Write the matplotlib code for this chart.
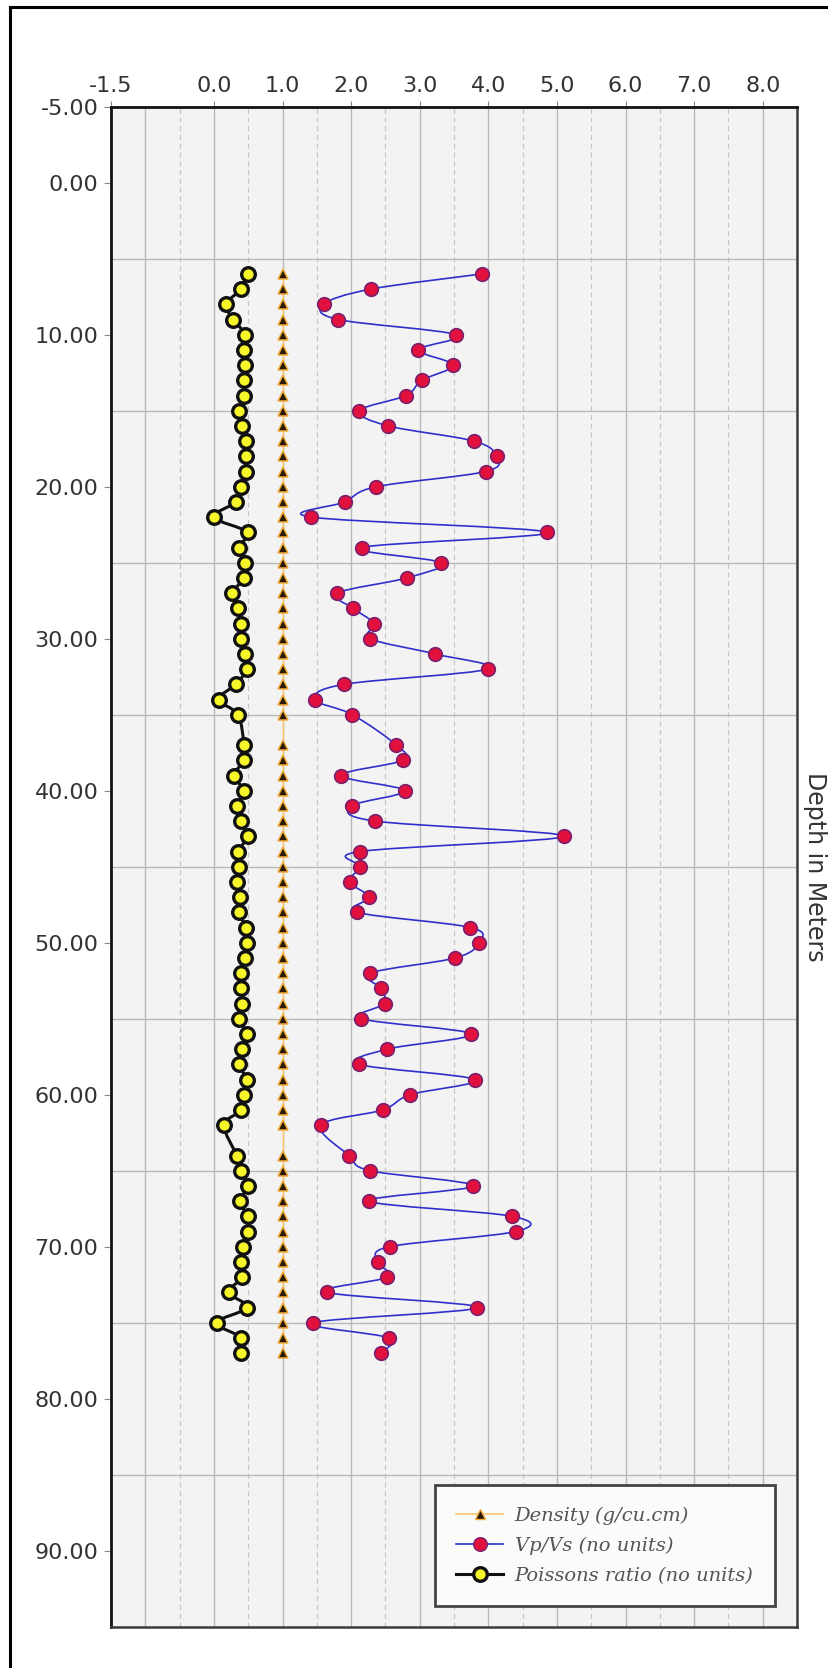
import numpy as np
import matplotlib
matplotlib.use("Agg")
import matplotlib.pyplot as plt
from matplotlib.lines import Line2D
from matplotlib.path import Path
from matplotlib.patches import PathPatch

# depth in meters (no readings at 36 and 63)
depth = [6, 7, 8, 9, 10, 11, 12, 13, 14, 15,
         16, 17, 18, 19, 20, 21, 22, 23, 24, 25,
         26, 27, 28, 29, 30, 31, 32, 33, 34, 35,
         37, 38, 39, 40, 41, 42, 43, 44, 45, 46,
         47, 48, 49, 50, 51, 52, 53, 54, 55, 56,
         57, 58, 59, 60, 61, 62, 64, 65, 66, 67,
         68, 69, 70, 71, 72, 73, 74, 75, 76, 77]

density = [1.0, 1.0, 1.0, 1.0, 1.0, 1.0, 1.0, 1.0, 1.0, 1.0,
           1.0, 1.0, 1.0, 1.0, 1.0, 1.0, 1.0, 1.0, 1.0, 1.0,
           1.0, 1.0, 1.0, 1.0, 1.0, 1.0, 1.0, 1.0, 1.0, 1.0,
           1.0, 1.0, 1.0, 1.0, 1.0, 1.0, 1.0, 1.0, 1.0, 1.0,
           1.0, 1.0, 1.0, 1.0, 1.0, 1.0, 1.0, 1.0, 1.0, 1.0,
           1.0, 1.0, 1.0, 1.0, 1.0, 1.0, 1.0, 1.0, 1.0, 1.0,
           1.0, 1.0, 1.0, 1.0, 1.0, 1.0, 1.0, 1.0, 1.0, 1.0]

vp_vs = [3.91, 2.29, 1.60, 1.81, 3.53, 2.98, 3.49, 3.03, 2.80, 2.12,
         2.54, 3.79, 4.12, 3.96, 2.37, 1.91, 1.42, 4.86, 2.16, 3.31,
         2.81, 1.80, 2.03, 2.33, 2.28, 3.22, 3.99, 1.90, 1.47, 2.02,
         2.66, 2.75, 1.85, 2.78, 2.01, 2.35, 5.10, 2.13, 2.13, 1.98,
         2.26, 2.09, 3.74, 3.86, 3.52, 2.28, 2.43, 2.49, 2.15, 3.75,
         2.53, 2.11, 3.80, 2.86, 2.46, 1.56, 1.97, 2.28, 3.78, 2.26,
         4.35, 4.40, 2.56, 2.39, 2.53, 1.65, 3.84, 1.45, 2.55, 2.43]

poisson = [0.49, 0.39, 0.18, 0.28, 0.46, 0.44, 0.46, 0.44, 0.44, 0.36,
           0.41, 0.47, 0.47, 0.47, 0.40, 0.32, 0.00, 0.49, 0.36, 0.45,
           0.44, 0.27, 0.35, 0.39, 0.39, 0.46, 0.48, 0.32, 0.07, 0.35,
           0.44, 0.44, 0.29, 0.44, 0.34, 0.39, 0.49, 0.35, 0.36, 0.34,
           0.38, 0.36, 0.47, 0.48, 0.46, 0.39, 0.40, 0.41, 0.36, 0.48,
           0.41, 0.36, 0.48, 0.44, 0.40, 0.15, 0.33, 0.39, 0.49, 0.38,
           0.49, 0.49, 0.42, 0.40, 0.41, 0.22, 0.48, 0.04, 0.40, 0.40]

x_ticks = [-1.5, 0, 1, 2, 3, 4, 5, 6, 7, 8]
y_ticks = [-5, 0, 10, 20, 30, 40, 50, 60, 70, 80, 90]

labels = ["Density (g/cu.cm)", "Vp/Vs (no units)", "Poissons ratio (no units)"]


def smooth_path(xs, ys):
    """Catmull-Rom curve through the points, as cubic bezier segments."""
    pts = np.column_stack([xs, ys]).astype(float)
    ext = np.vstack([pts[0], pts, pts[-1]])
    verts = [pts[0]]
    codes = [Path.MOVETO]
    for i in range(1, len(ext) - 2):
        p0, p1, p2, p3 = ext[i - 1], ext[i], ext[i + 1], ext[i + 2]
        verts += [p1 + (p2 - p0) / 6.0, p2 - (p3 - p1) / 6.0, p2]
        codes += [Path.CURVE4] * 3
    return Path(verts, codes)


fig = plt.figure(figsize=(8.29, 16.68), dpi=100)
ax = fig.add_axes([111 / 829, 1 - 1626.7 / 1668, 686 / 829, 1520 / 1668])
ax.set_facecolor("#f3f3f3")

ax.set_xlim(-1.5, 8.5)
ax.set_ylim(95, -5)

# grid: solid on whole units, dashed on halves, horizontal every 10 m from 5
for gx in np.arange(-1.0, 8.5, 1.0):
    ax.axvline(gx, color="#b9b9b9", lw=1.0, zorder=0)
for gx in np.arange(-0.5, 8.5, 1.0):
    ax.axvline(gx, color="#c6c6c6", lw=0.9, ls=(0, (4, 3)), zorder=0)
for gy in np.arange(5, 95, 10):
    ax.axhline(gy, color="#b9b9b9", lw=1.0, zorder=0)

# density
ax.plot(density, depth, color="#ffc56a", lw=1.0, zorder=2)
ax.plot(density, depth, ls="none", marker="^", ms=7,
        mfc="#2a1a05", mec="#f2ad3c", mew=1.1, zorder=3)

# vp/vs
ax.add_patch(PathPatch(smooth_path(vp_vs, depth), fc="none",
                       ec="#2f2fcc", lw=1.2, zorder=4))
ax.plot(vp_vs, depth, ls="none", marker="o", ms=9.8,
        mfc="#e2103c", mec="#7a1f6e", mew=1.2, zorder=5)

# poisson
ax.add_patch(PathPatch(smooth_path(poisson, depth), fc="none",
                       ec="#111111", lw=2.2, zorder=6))
ax.plot(poisson, depth, ls="none", marker="o", ms=9.8,
        mfc="#f6f62a", mec="#111111", mew=2.4, zorder=7)

ax.xaxis.tick_top()
ax.set_xticks(x_ticks)
ax.set_xticklabels(["%.1f" % v for v in x_ticks])
ax.set_yticks(y_ticks)
ax.set_yticklabels(["%.2f" % v for v in y_ticks])
ax.tick_params(axis="x", length=4, pad=4, labelsize=16,
               colors="#888888", labelcolor="#333333")
ax.tick_params(axis="y", length=5, pad=4, labelsize=16,
               colors="#888888", labelcolor="#333333")

for side in ["left", "top"]:
    ax.spines[side].set_color("#111111")
    ax.spines[side].set_linewidth(2.0)
for side in ["right", "bottom"]:
    ax.spines[side].set_color("#3a3a3a")
    ax.spines[side].set_linewidth(1.8)

ax.text(1.026, 0.5, "Depth in Meters", transform=ax.transAxes,
        rotation=-90, ha="center", va="center", fontsize=17, color="#333333")

handles = [
    Line2D([], [], color="#ffc56a", lw=1.2, marker="^", ms=7,
           mfc="#2a1a05", mec="#f2ad3c"),
    Line2D([], [], color="#2f2fcc", lw=1.2, marker="o", ms=9.8,
           mfc="#e2103c", mec="#7a1f6e"),
    Line2D([], [], color="#111111", lw=2.2, marker="o", ms=9.8,
           mfc="#f6f62a", mec="#111111", mew=2.4),
]
leg = ax.legend(handles, labels, loc="lower right",
                bbox_to_anchor=(0.968, 0.0136), borderaxespad=0,
                prop={"family": "DejaVu Serif", "style": "italic", "size": 14},
                fancybox=False, framealpha=1, facecolor="#fbfbfb",
                edgecolor="#444444", handlelength=2.4, handletextpad=0.6,
                labelspacing=0.6, borderpad=1.1)
leg.get_frame().set_linewidth(2.0)
for t in leg.get_texts():
    t.set_color("#555555")

# outer frame of the picture (cut at right and bottom)
fig.add_artist(Line2D([10 / 829, 10 / 829], [0, 1 - 6.7 / 1668],
                      transform=fig.transFigure, color="black", lw=2.2))
fig.add_artist(Line2D([10 / 829, 1], [1 - 6.7 / 1668, 1 - 6.7 / 1668],
                      transform=fig.transFigure, color="black", lw=2.2))

fig.savefig("out.png", dpi=100)
plt.close(fig)
